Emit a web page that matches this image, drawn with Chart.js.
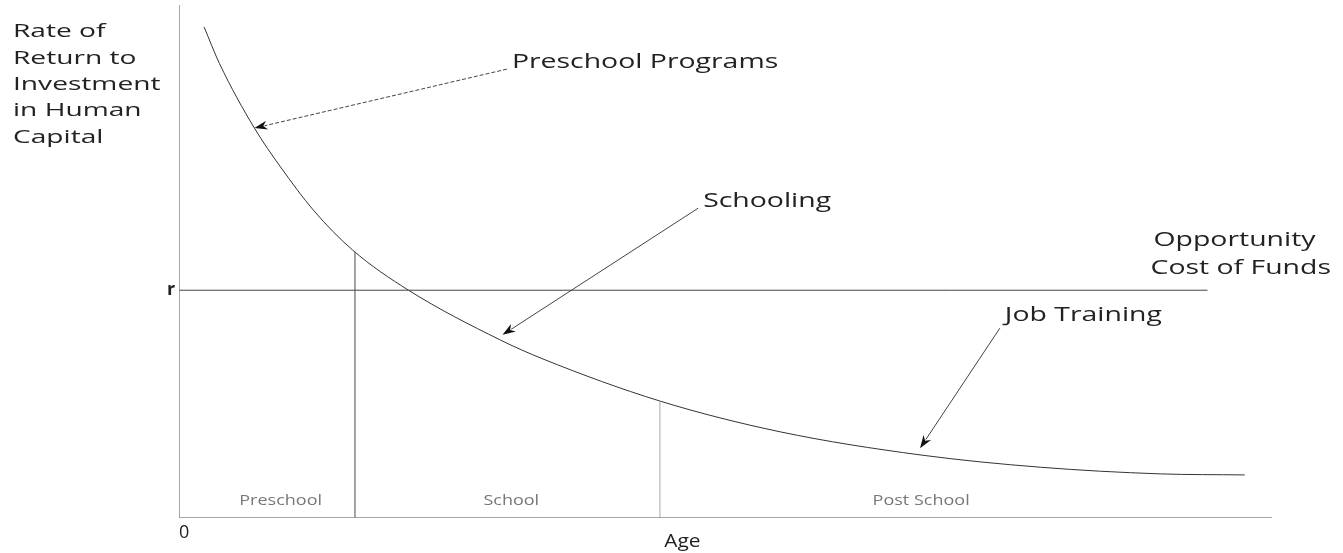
<!DOCTYPE html>
<html>
<head>
<meta charset="utf-8">
<script src="https://cdn.jsdelivr.net/npm/chart.js@4"></script>
<style>
  body { margin: 0; background: #fff; }
  #wrap { width: 1343px; height: 553px; }
</style>
</head>
<body>
<div id="wrap"><canvas id="chart"></canvas></div>
<script>
// Curve (age units 0-100, rate units 0-100)
const curveAge  = [2.3, 3.7, 6.9, 9.3, 12.3, 15.9, 21.0, 29.4, 33.3, 44.0, 55.0, 67.8, 78.8, 89.8, 97.5];
const curveRate = [95.7, 88.6, 76.0, 68.4, 60.0, 52.2, 44.4, 34.7, 31.0, 22.8, 16.8, 12.3, 9.9, 8.6, 8.4];

const rLevel = 44.4;       // opportunity cost of funds
const rLineEnd = 94.1;
const stageBounds = [16.1, 44.0];      // Preschool | School | Post School
const stageTops = [51.9, 22.8];
const stageNames = ['Preschool', 'School', 'Post School'];
const stageCenters = [9.3, 30.4, 67.9];

const yTitle = ['Rate of', 'Return to', 'Investment', 'in Human', 'Capital'];

// callouts: [label, from age, from rate, to age, to rate]
const callouts = [
    ['Preschool Programs', 30.0, 87.5, 6.9, 76.0],
    ['Schooling', 47.5, 60.4, 29.6, 35.7],
    ['Job Training', 75.1, 37.0, 67.8, 13.6]
];

const pts = (xs, ys) => xs.map((x, i) => ({ x, y: ys[i] }));

const datasets = [
    { data: [{ x: 0, y: 0 }, { x: 0, y: 100 }], borderColor: '#8a8a8a', borderWidth: 1.5 },
    { data: [{ x: 0, y: 0 }, { x: 100, y: 0 }], borderColor: '#8a8a8a', borderWidth: 1.5 },
    { data: [{ x: 0, y: rLevel }, { x: rLineEnd, y: rLevel }], borderColor: '#444', borderWidth: 1 },
    { data: [{ x: stageBounds[0], y: 0 }, { x: stageBounds[0], y: stageTops[0] }], borderColor: '#666', borderWidth: 1.2 },
    { data: [{ x: stageBounds[1], y: 0 }, { x: stageBounds[1], y: stageTops[1] }], borderColor: '#aaa', borderWidth: 1 },
    { data: pts(curveAge, curveRate), borderColor: '#333', borderWidth: 1, cubicInterpolationMode: 'monotone' }
];

// stretched text, the original lettering is wide
function label(ctx, text, x, y, size, opts = {}) {
    ctx.save();
    ctx.font = `${opts.bold ? 'bold ' : ''}${size}px "Open Sans", sans-serif`;
    ctx.fillStyle = opts.color || '#222';
    ctx.textBaseline = 'middle';
    const sx = opts.stretch || 1.42;
    const w = ctx.measureText(text).width * sx;
    let left = x;
    if (opts.align === 'center') left = x - w / 2;
    ctx.translate(left, y);
    ctx.scale(sx, 1);
    ctx.fillText(text, 0, 0);
    ctx.restore();
}

function arrow(ctx, x1, y1, x2, y2, dashed) {
    const a = Math.atan2(y2 - y1, x2 - x1);
    const len = 13, hw = 4.5;
    ctx.save();
    ctx.strokeStyle = '#444';
    ctx.lineWidth = 1;
    if (dashed) ctx.setLineDash([4, 2]);
    ctx.beginPath();
    ctx.moveTo(x1, y1);
    ctx.lineTo(x2 - Math.cos(a) * len * 0.8, y2 - Math.sin(a) * len * 0.8);
    ctx.stroke();
    ctx.setLineDash([]);
    ctx.fillStyle = '#111';
    ctx.beginPath();
    ctx.moveTo(x2, y2);
    ctx.lineTo(x2 - Math.cos(a) * len - Math.sin(a) * hw, y2 - Math.sin(a) * len + Math.cos(a) * hw);
    ctx.lineTo(x2 - Math.cos(a) * len * 0.7, y2 - Math.sin(a) * len * 0.7);
    ctx.lineTo(x2 - Math.cos(a) * len + Math.sin(a) * hw, y2 - Math.sin(a) * len - Math.cos(a) * hw);
    ctx.closePath();
    ctx.fill();
    ctx.restore();
}

const annotations = {
    id: 'annotations',
    afterDatasetsDraw(chart) {
        const ctx = chart.ctx;
        const xs = chart.scales.x, ys = chart.scales.y;
        const px = v => xs.getPixelForValue(v);
        const py = v => ys.getPixelForValue(v);

        // y axis title, top left
        yTitle.forEach((t, i) => label(ctx, t, 13, 32 + i * 26.3, 19, { stretch: 1.48 }));

        // callouts with arrows
        callouts.forEach(([t, fx, fy, tx, ty], i) => {
            arrow(ctx, px(fx), py(fy), px(tx), py(ty), i === 0);
            label(ctx, t, px(fx) + 5, py(fy) - (i === 2 ? 13 : 7), 20);
        });

        label(ctx, 'Opportunity', px(rLineEnd) - 54, py(rLevel) - 50, 20);
        label(ctx, 'Cost of Funds', px(rLineEnd) - 57, py(rLevel) - 22, 20);
        label(ctx, 'r', px(0) - 12, py(rLevel), 18, { bold: true, stretch: 1 });

        stageNames.forEach((t, i) => label(ctx, t, px(stageCenters[i]), py(0) - 17, 15, { color: '#777', align: 'center', stretch: 1.2 }));

        label(ctx, '0', px(0), py(0) + 15, 18, { stretch: 1 });
        label(ctx, 'Age', px(44.4), py(0) + 24, 19, { stretch: 1.1 });
    }
};

new Chart(document.getElementById('chart'), {
    type: 'scatter',
    data: { datasets: datasets.map(d => ({ ...d, showLine: true, pointRadius: 0, fill: false })) },
    options: {
        responsive: true,
        maintainAspectRatio: false,
        animation: false,
        layout: { padding: { left: 179, top: 5, right: 71, bottom: 35 } },
        scales: {
            x: { type: 'linear', min: 0, max: 100, display: false },
            y: { type: 'linear', min: 0, max: 100, display: false }
        },
        plugins: { legend: { display: false }, tooltip: { enabled: false } }
    },
    plugins: [annotations]
});
</script>
</body>
</html>
